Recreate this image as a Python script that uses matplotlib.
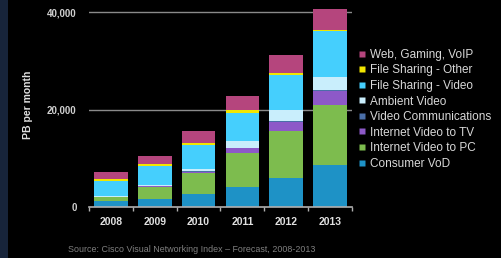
import matplotlib
matplotlib.use('Agg')
import matplotlib.pyplot as plt
import numpy as np
from matplotlib.lines import Line2D
from matplotlib.patches import Rectangle

plt.rcParams['font.family'] = ['Liberation Sans', 'DejaVu Sans']

years = ['2008', '2009', '2010', '2011', '2012', '2013']

# PB per month, per segment (bottom to top)
consumer_vod = [1150, 1640, 2600, 4040, 5960, 8560]
video_to_pc = [800, 2400, 4320, 6990, 9730, 12400]
video_to_tv = [150, 300, 340, 1030, 1710, 2740]
video_comm = [50, 60, 80, 120, 150, 200]
ambient_video = [100, 150, 540, 1320, 2250, 2680]
fs_video = [3150, 3810, 4860, 5820, 7330, 9520]
fs_other = [350, 410, 340, 480, 270, 200]
web_gaming = [1350, 1780, 2470, 2940, 3770, 4390]

series = [
    ('Consumer VoD', consumer_vod, '#1e92c6'),
    ('Internet Video to PC', video_to_pc, '#7dbc4e'),
    ('Internet Video to TV', video_to_tv, '#8d59c8'),
    ('Video Communications', video_comm, '#4a6fa8'),
    ('Ambient Video', ambient_video, '#c9eefc'),
    ('File Sharing - Video', fs_video, '#45cffd'),
    ('File Sharing - Other', fs_other, '#f2e600'),
    ('Web, Gaming, VoIP', web_gaming, '#b5457d'),
]

fig = plt.figure(figsize=(5.01, 2.58), dpi=100, facecolor='black')
# dark navy strip on the left edge
fig.patches.append(Rectangle((0, 0), 8 / 501, 1, transform=fig.transFigure,
                             facecolor='#17243a', edgecolor='none', zorder=0))

ax = fig.add_axes([89 / 501, 1 - 207 / 258, 263 / 501, 204.75 / 258])
ax.set_facecolor('black')

x = np.arange(len(years))
bottom = np.zeros(len(years))
for name, vals, col in series:
    ax.bar(x, vals, width=0.77, bottom=bottom, color=col, edgecolor='none', zorder=3)
    bottom += np.array(vals)

ax.set_xlim(-0.5, len(years) - 0.5)
ax.set_ylim(0, 42000)
ax.set_yticks([0, 20000, 40000])
ax.set_yticklabels(['0', '20,000', '40,000'])
for yv in [20000, 40000]:
    ax.axhline(yv, color='#8a8a8a', lw=1, zorder=1)

for s in ['top', 'right', 'left']:
    ax.spines[s].set_visible(False)
ax.spines['bottom'].set_color('#b0b0b0')
ax.spines['bottom'].set_linewidth(1.2)
ax.spines['bottom'].set_zorder(4)

ax.set_xticks(x)
ax.set_xticklabels(years)
ax.set_xticks(np.arange(-0.5, len(years)), minor=True)
ax.tick_params(axis='x', which='major', length=0, pad=7, labelsize=7.5, labelcolor='#e0e0e0')
ax.tick_params(axis='x', which='minor', length=3, width=1, color='#b0b0b0', direction='out')
ax.tick_params(axis='y', length=0, pad=9, labelsize=7, labelcolor='#d0d0d0')
for lab in ax.get_xticklabels():
    lab.set_fontweight('bold')
for lab in ax.get_yticklabels():
    lab.set_fontweight('bold')

ax.set_ylabel('PB per month', color='#e0e0e0', fontsize=7.5, fontweight='bold', labelpad=10)

handles = [Line2D([], [], marker='s', linestyle='none', markersize=4.5,
                  markerfacecolor=col, markeredgecolor='none')
           for name, vals, col in series[::-1]]
labels = [name for name, vals, col in series[::-1]]
leg = fig.legend(handles, labels, loc='upper left', bbox_to_anchor=(353 / 501, 1 - 43 / 258),
                 frameon=False, fontsize=8.5, handlelength=0.6, handletextpad=0.3,
                 labelspacing=0.3, borderpad=0)
for t in leg.get_texts():
    t.set_color('#d8d8d8')

fig.text(68 / 501, 1 - 250 / 258, 'Source: Cisco Visual Networking Index \u2013 Forecast, 2008-2013',
         color='#808080', fontsize=6.4, va='center', ha='left')

fig.savefig('out.png', dpi=100, facecolor='black')
